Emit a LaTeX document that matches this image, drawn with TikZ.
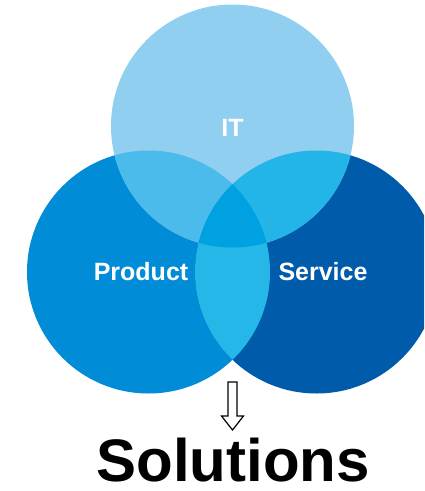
\documentclass[tikz,border=0pt]{standalone}
\usepackage{fontspec}
\setmainfont{Liberation Sans}
\definecolor{itblue}{HTML}{91CFF1}
\definecolor{prodblue}{HTML}{008CD6}
\definecolor{servblue}{HTML}{005BAB}
\definecolor{itprod}{HTML}{4BBBEB}
\definecolor{itserv}{HTML}{23B5E8}
\definecolor{prodserv}{HTML}{26B7E9}
\definecolor{allblue}{HTML}{00A1E0}
\begin{document}
\begin{tikzpicture}[x=1pt,y=-1pt,
  setcircle/.style={circle,minimum size=243pt,inner sep=0pt},
  setlabel/.style={text=white,anchor=base,inner sep=0pt,font=\fontsize{25}{30}\selectfont\bfseries}]
\useasboundingbox (0,0) rectangle (424,491);
\clip (0,0) rectangle (424,491);
\node[setcircle,fill=prodblue] (prod) at (148.5,272) {};
\node[setcircle,fill=servblue] (serv) at (316.5,272) {};
\node[setcircle,fill=itblue] (it) at (232.5,126) {};
\begin{scope}
\clip (it.center) circle (121.5pt);
\fill[itprod] (prod.center) circle (121.5pt);
\fill[itserv] (serv.center) circle (121.5pt);
\end{scope}
\begin{scope}
\clip (prod.center) circle (121.5pt);
\fill[prodserv] (serv.center) circle (121.5pt);
\clip (serv.center) circle (121.5pt);
\fill[allblue] (it.center) circle (121.5pt);
\end{scope}
\node[setlabel] (itlbl) at (232.5,136) {IT};
\node[setlabel] (prodlbl) at (141,280) {Product};
\node[setlabel] (servlbl) at (323,280) {Service};
\draw[line width=1.2pt,fill=white] (228,382) -- (237,382) -- (237,416) -- (243.5,416) -- (232.5,430) -- (221.5,416) -- (228,416) -- cycle;
\node[anchor=base,inner sep=0pt,font=\fontsize{60}{70}\selectfont\bfseries] (sol) at (233,481) {Solutions};
\end{tikzpicture}
\end{document}
